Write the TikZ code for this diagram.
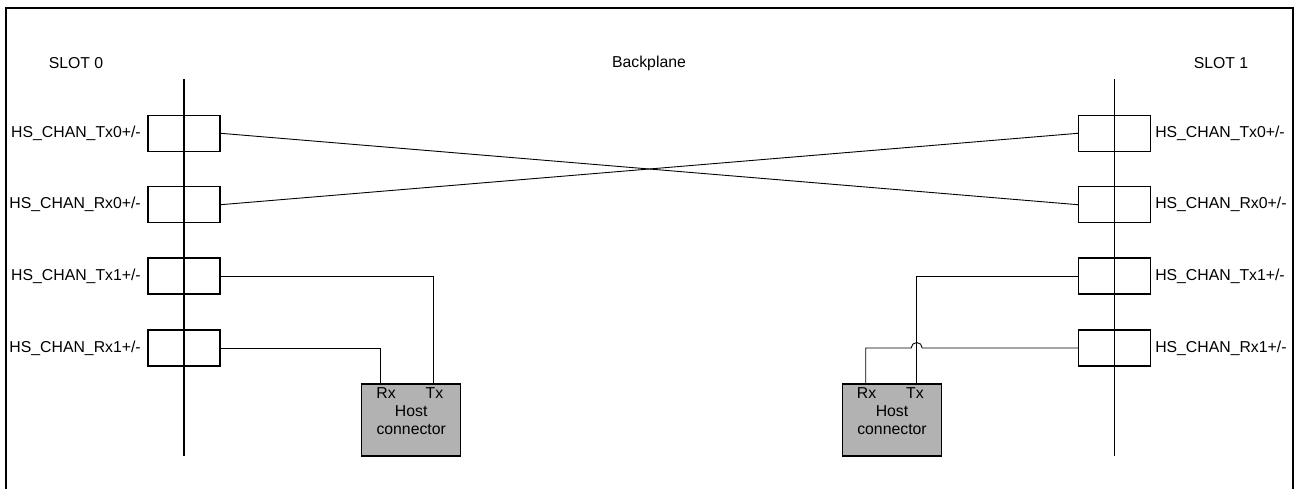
\documentclass[tikz,border=0pt]{standalone}
\usepackage{fontspec}
\setmainfont{Liberation Sans}
\usetikzlibrary{calc}
\definecolor{hostgray}{RGB}{178,178,178}
\begin{document}
\begin{tikzpicture}[x=1pt,y=-1pt,
  every node/.style={font=\fontsize{15.8}{18}\selectfont, inner sep=0pt},
  pinbox/.style={draw, line width=1.1pt, minimum width=72pt, minimum height=36pt},
  hostbox/.style={draw, line width=1.1pt, fill=hostgray, minimum width=99pt, minimum height=72pt},
  wire/.style={line width=0.9pt},
  rail/.style={line width=1.1pt}]
\useasboundingbox (0,0) rectangle (1302,489);
% frame
\draw[line width=1.2pt] (6,495) -- (6,8) -- (1293,8) -- (1293,495);
% titles
\node (s0) at (76,63) {SLOT 0};
\node (bp) at (649,63) {Backplane};
\node (s1) at (1221,63) {SLOT 1};
% rails
\coordinate (r0t) at (184,79);
\coordinate (r0b) at (184,456);
\coordinate (r1t) at (1114.5,79);
\coordinate (r1b) at (1114.5,456);
% boxes left
\node[pinbox] (L1) at (184,133.3) {};
\node[pinbox] (L2) at (184,204.7) {};
\node[pinbox] (L3) at (184,276) {};
\node[pinbox] (L4) at (184,348) {};
% boxes right
\node[pinbox] (R1) at (1114.5,133.3) {};
\node[pinbox] (R2) at (1114.5,204.7) {};
\node[pinbox] (R3) at (1114.5,276) {};
\node[pinbox] (R4) at (1114.5,348) {};
\draw[rail] (r0t) -- (r0b);
\draw[rail] (r1t) -- (r1b);
% labels
\node[anchor=east] (lL1) at ([xshift=-6.5pt]L1.west) {HS\_CHAN\_Tx0+/-};
\node[anchor=east] (lL2) at ([xshift=-6.5pt]L2.west) {HS\_CHAN\_Rx0+/-};
\node[anchor=east] (lL3) at ([xshift=-6.5pt]L3.west) {HS\_CHAN\_Tx1+/-};
\node[anchor=east] (lL4) at ([xshift=-6.5pt]L4.west) {HS\_CHAN\_Rx1+/-};
\node[anchor=west] (lR1) at ([xshift=4pt]R1.east) {HS\_CHAN\_Tx0+/-};
\node[anchor=west] (lR2) at ([xshift=4pt]R2.east) {HS\_CHAN\_Rx0+/-};
\node[anchor=west] (lR3) at ([xshift=4pt]R3.east) {HS\_CHAN\_Tx1+/-};
\node[anchor=west] (lR4) at ([xshift=4pt]R4.east) {HS\_CHAN\_Rx1+/-};
% host connectors
\node[hostbox] (HL) at (411.2,420) {};
\node (HLrx) at (386,393.5) {Rx};
\node (HLtx) at (434.5,393.5) {Tx};
\node[align=center] (HLt) at (411.2,420) {Host\\connector};
\node[hostbox] (HR) at (892,420) {};
\node (HRrx) at (866.5,393.5) {Rx};
\node (HRtx) at (915,393.5) {Tx};
\node[align=center] (HRt) at (892,420) {Host\\connector};
% crossing wires
\draw[wire] (L1.east) -- (R2.west);
\draw[wire] (L2.east) -- (R1.west);
% left host wires
\coordinate (hlTx) at ([xshift=22pt]HL.north);
\coordinate (hlRx) at ([xshift=-31.2pt]HL.north);
\draw[wire] (L3.east) -| (hlTx);
\draw[wire] (L4.east) -| (hlRx);
% right host wires
\coordinate (hrTx) at ([xshift=24.7pt]HR.north);
\coordinate (hrRx) at ([xshift=-26.3pt]HR.north);
\coordinate (hop) at (hrTx |- R4.west);
\draw[wire] (R3.west) -| (hrTx);
\draw[wire] (R4.west) -- ([xshift=5.5pt]hop) arc[start angle=0, end angle=180, radius=5.5pt] -- (hrRx |- R4.west) -- (hrRx);
\end{tikzpicture}
\end{document}
